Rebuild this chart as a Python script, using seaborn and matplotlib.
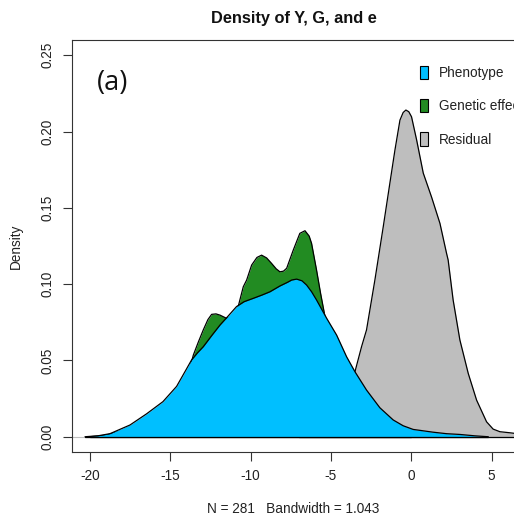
import numpy as np
import pandas as pd
import matplotlib
matplotlib.use("Agg")
import matplotlib.pyplot as plt
from matplotlib.patches import Patch
from matplotlib.ticker import FixedLocator, FixedFormatter
import seaborn as sns

# ---- data (x value, density) ----
pheno_x = [-20.3, -19.5, -18.75, -17.5, -16.47, -15.45, -14.6, -13.98, -13.67, -13.3, -12.94,
           -12.4, -11.9, -11.4, -10.87, -10.4, -9.83, -9.3, -8.79, -8.17, -7.7, -7.44, -7.13,
           -6.8, -6.51, -6.2, -5.89, -5.26, -4.64, -4.02, -3.5, -2.78, -1.95, -1.12, -0.5,
           0.12, 1.35, 2.2, 3.03, 3.96, 4.8]
pheno_y = [0.0, 0.0006, 0.002, 0.0077, 0.015, 0.023, 0.033, 0.0445, 0.0503, 0.055, 0.059,
           0.0665, 0.0732, 0.079, 0.0853, 0.0885, 0.0907, 0.0928, 0.095, 0.0988, 0.1012, 0.1027, 0.1033,
           0.1022, 0.0994, 0.095, 0.0896, 0.0776, 0.0666, 0.0524, 0.0426, 0.0306, 0.019, 0.011, 0.0072,
           0.0048, 0.003, 0.002, 0.0015, 0.0006, 0.0]

gen_x = [-20.0, -19.0, -18.0, -17.0, -16.0, -15.0, -14.0, -13.56, -13.25, -12.94, -12.65, -12.42,
         -12.15, -11.9, -11.49, -11.1, -10.77, -10.45, -10.24, -9.93, -9.6, -9.31, -9.0, -8.69,
         -8.4, -8.17, -7.95, -7.75, -7.34, -6.93, -6.61, -6.35, -6.2, -5.89, -5.64, -5.37,
         -4.9, -4.4, -3.8, -3.0, -2.0, -1.0, 0.0]
gen_y = [0.0, 0.001, 0.004, 0.009, 0.015, 0.022, 0.036, 0.0535, 0.062, 0.070, 0.0768, 0.0802,
         0.0805, 0.0797, 0.0776, 0.079, 0.0852, 0.0983, 0.1027, 0.1125, 0.1175, 0.119, 0.1172, 0.1136,
         0.1100, 0.1081, 0.1085, 0.1104, 0.1223, 0.1333, 0.135, 0.1315, 0.1267, 0.1092, 0.094, 0.079,
         0.058, 0.040, 0.024, 0.012, 0.005, 0.0015, 0.0]

resid_x = [-7.0, -6.0, -5.0, -4.5, -4.0, -3.5, -3.09, -2.78, -2.26, -1.74, -1.33, -1.01, -0.7,
           -0.5, -0.33, -0.15, 0.02, 0.34, 0.75, 1.27, 1.79, 2.2, 2.3, 2.61, 3.03, 3.55, 4.07,
           4.69, 5.1, 5.52, 6.14, 6.6, 7.0]
resid_y = [0.0, 0.001, 0.006, 0.014, 0.026, 0.0426, 0.059, 0.070, 0.1027, 0.1376, 0.166, 0.188, 0.2075,
           0.2125, 0.2141, 0.2130, 0.2097, 0.1944, 0.1728, 0.157, 0.1398, 0.1202, 0.1158, 0.0896, 0.0634,
           0.0415, 0.024, 0.0098, 0.005, 0.0033, 0.0026, 0.002, 0.001]

series_names = ["Phenotype", "Genetic effect", "Residual"]
series_colors = ["#00BFFF", "#228B22", "#BEBEBE"]

x_ticks = [-20, -15, -10, -5, 0, 5]
x_tick_labels = ["-20", "-15", "-10", "-5", "0", "5"]
y_ticks = [0.00, 0.05, 0.10, 0.15, 0.20, 0.25]
y_tick_labels = ["0.00", "0.05", "0.10", "0.15", "0.20", "0.25"]

# ---- styling ----
sns.set_style("ticks")
plt.rcParams["font.family"] = ["Liberation Sans", "DejaVu Sans"]
plt.rcParams["axes.unicode_minus"] = False

W, H = 514, 519
fig = plt.figure(figsize=(W / 100, H / 100), dpi=100)
ax_l, ax_r, ax_t, ax_b = 72, 515, 40, 452
ax = fig.add_axes([ax_l / W, (H - ax_b) / H, (ax_r - ax_l) / W, (ax_b - ax_t) / H])

frames = {
    "Residual": pd.DataFrame({"x": resid_x, "d": resid_y}),
    "Genetic effect": pd.DataFrame({"x": gen_x, "d": gen_y}),
    "Phenotype": pd.DataFrame({"x": pheno_x, "d": pheno_y}),
}
colors = dict(zip(series_names, series_colors))

ax.axhline(0, color="#BEBEBE", lw=0.8, zorder=0.5)

z = 1
for name in ["Residual", "Genetic effect", "Phenotype"]:
    df = frames[name]
    ax.fill_between(df["x"], 0, df["d"], color=colors[name], lw=0, zorder=z)
    sns.lineplot(data=df, x="x", y="d", ax=ax, color="black", lw=0.9, sort=False,
                 estimator=None, zorder=z + 0.1)
    ax.plot([df["x"].iloc[0], df["x"].iloc[-1]], [0, 0], color="black", lw=0.9, zorder=z + 0.1)
    z += 1

ax.set_xlim(-21.11, 6.46)
ax.set_ylim(-0.01, 0.26)

ax.xaxis.set_major_locator(FixedLocator(x_ticks))
ax.xaxis.set_major_formatter(FixedFormatter(x_tick_labels))
ax.yaxis.set_major_locator(FixedLocator(y_ticks))
ax.yaxis.set_major_formatter(FixedFormatter(y_tick_labels))

ax.tick_params(axis="both", direction="out", length=6.5, width=0.8, color="#333333",
               labelsize=9.8, labelcolor="#222222", pad=6)
ax.tick_params(axis="y", labelrotation=90)
for lab in ax.get_yticklabels():
    lab.set_va("center")

for sp in ax.spines.values():
    sp.set_color("#333333")
    sp.set_linewidth(0.8)
    sp.set_visible(True)

ax.set_xlabel("N = 281   Bandwidth = 1.043", fontsize=9.8, color="#222222")
ax.set_ylabel("Density", fontsize=9.8, color="#222222")
ax.xaxis.set_label_coords((293.5 - ax_l) / (ax_r - ax_l), -(502.0 - ax_b) / (ax_b - ax_t))
ax.yaxis.set_label_coords(-(72 - 23) / (ax_r - ax_l), 0.5)

ax.set_title("Density of Y, G, and e", fontsize=11.8, fontweight="bold", color="#111111", pad=12)

ax.text((97 - ax_l) / (ax_r - ax_l), (ax_b - 83) / (ax_b - ax_t), "(a)", transform=ax.transAxes,
        family=["Open Sans", "DejaVu Sans"], fontsize=19.5, ha="left", va="center", color="#111111")

handles = [Patch(facecolor=c, edgecolor="black", linewidth=0.8) for c in series_colors]
leg = ax.legend(handles, series_names, loc="upper left",
                bbox_to_anchor=(420 / W, 1 - 65.5 / H), bbox_transform=fig.transFigure,
                frameon=False, fontsize=9.8, handlelength=0.6, handleheight=1.1,
                handletextpad=0.8, labelspacing=1.42, borderpad=0, borderaxespad=0)
for t in leg.get_texts():
    t.set_color("#222222")

fig.savefig("out.png", dpi=100)
